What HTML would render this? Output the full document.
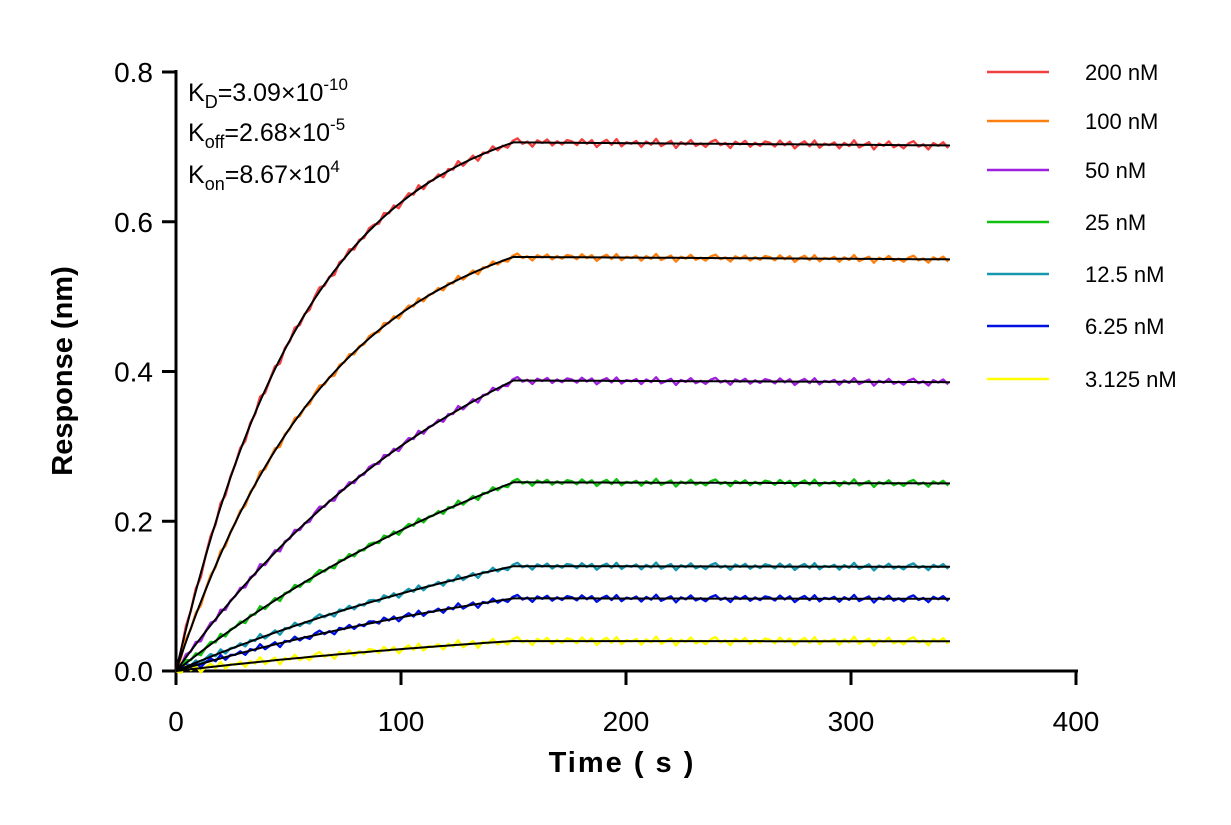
<!DOCTYPE html>
<html><head><meta charset="utf-8"><style>
body{margin:0;background:#fff;}
svg{display:block;font-family:"Liberation Sans",Arial,sans-serif;}
</style></head><body>
<svg id="chart" width="1231" height="825" viewBox="0 0 1231 825">
<g id="axes"></g>
<g id="series"></g>
<g id="legend"></g>
<g font-size="25" fill="#000">
<text x="188" y="101">K<tspan font-size="18" dy="7">D</tspan><tspan dy="-7">=3.09×10</tspan><tspan font-size="17" dy="-11">-10</tspan></text>
<text x="188" y="141">K<tspan font-size="18" dy="7">off</tspan><tspan dy="-7">=2.68×10</tspan><tspan font-size="17" dy="-11">-5</tspan></text>
<text x="188" y="183">K<tspan font-size="18" dy="7">on</tspan><tspan dy="-7">=8.67×10</tspan><tspan font-size="17" dy="-11">4</tspan></text>
</g>
<text x="72" y="371" transform="rotate(-90 72 371)" text-anchor="middle" font-size="29" font-weight="bold">Response (nm)</text>
<text x="622" y="772" text-anchor="middle" font-size="29" font-weight="bold" letter-spacing="2">Time ( s )</text>
</svg>
<script>
const concLabels=["200 nM","100 nM","50 nM","25 nM","12.5 nM","6.25 nM","3.125 nM"];
const colors=["#f04040","#ff8010","#a020e0","#10c010","#1898b0","#0010e0","#ffff00"];
const plateaus=[0.706,0.553,0.388,0.252,0.140,0.097,0.040];
const kobs=[0.017,0.0145,0.007,0.005,0.0045,0.0045,0.004];
const noise=[0.3,-0.5,0.8,-0.2,0.6,-0.9,0.1,0.7,-0.4,0.9,-0.7,0.2,-0.1,0.5,-0.8,0.4,-0.3,1.0,-0.6,0.0,0.6,-1.0,0.3,-0.2,0.8,-0.5,0.1,-0.7,0.4,0.9,-0.3,0.2,-0.9,0.5,-0.1,0.7,-0.6,0.3,-0.4,0.6];
const noiseAmp=[0.006,0.005,0.005,0.005,0.005,0.005,0.006];
const xTicks=[0,100,200,300,400];
const yTicks=[0.0,0.2,0.4,0.6,0.8];
const tAssoc=150, tEnd=345;
const NS="http://www.w3.org/2000/svg";
const X=t=>176+t*2.25, Y=v=>671-v*748.75;
function mk(tag,attrs,parent){const e=document.createElementNS(NS,tag);for(const k in attrs)e.setAttribute(k,attrs[k]);parent.appendChild(e);return e;}
const axes=document.getElementById('axes');
const xa=mk('line',{x1:176,y1:671,x2:1078,y2:671,stroke:'#000','stroke-width':3},axes);


const ya=mk('line',{x1:176,y1:70,x2:176,y2:673,stroke:'#000','stroke-width':3},axes);


xTicks.forEach(t=>{mk('line',{x1:X(t),y1:671,x2:X(t),y2:685,stroke:'#000','stroke-width':3},axes);
const tx=mk('text',{x:X(t),y:731,'text-anchor':'middle','font-size':28},axes);tx.textContent=t;

});
yTicks.forEach(v=>{mk('line',{x1:162,y1:Y(v),x2:176,y2:Y(v),stroke:'#000','stroke-width':3},axes);
const tx=mk('text',{x:153,y:Y(v)+10,'text-anchor':'end','font-size':28},axes);tx.textContent=v.toFixed(1);

});
function fit(i,t){const k=kobs[i];const R=plateaus[i]/(1-Math.exp(-k*tAssoc));
return t<=tAssoc?R*(1-Math.exp(-k*t)):plateaus[i]*(1-0.00003*(t-tAssoc));}
const ser=document.getElementById('series');
plateaus.forEach((p,i)=>{
let d='';for(let t=0,j=0;t<=tEnd;t+=2.2,j++){const v=fit(i,t)+(t>2?noise[j%noise.length]*noiseAmp[i]:0);d+=(j?'L':'M')+X(t).toFixed(1)+' '+Y(v).toFixed(1);}
const pl=mk('path',{d:d,fill:'none',stroke:colors[i],'stroke-width':2.4,'stroke-linejoin':'round'},ser);


});
plateaus.forEach((p,i)=>{
let d='';for(let t=0,j=0;t<=tEnd;t+=2,j++){d+=(j?'L':'M')+X(t).toFixed(1)+' '+Y(fit(i,t)).toFixed(1);}
const fl=mk('path',{d:d,fill:'none',stroke:'#000','stroke-width':2},ser);


});
const leg=document.getElementById('legend');
const legY=[72,121,170,222,274,326,379];
concLabels.forEach((l,i)=>{
const g=mk('g',{},leg);


mk('line',{x1:987,y1:legY[i],x2:1049,y2:legY[i],stroke:colors[i],'stroke-width':2.5},g);
const tx=mk('text',{x:1085,y:legY[i]+8,'font-size':22},g);tx.textContent=l;
});
</script>
</body></html>
